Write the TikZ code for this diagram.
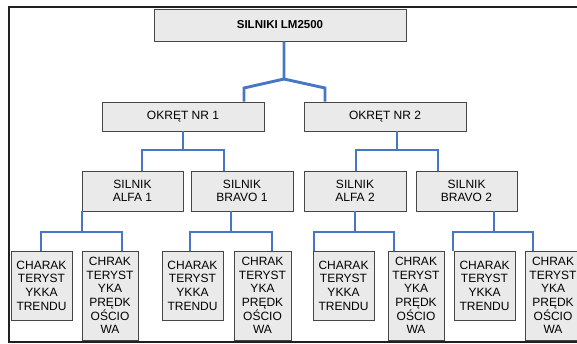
\documentclass[tikz,border=0pt]{standalone}
\usepackage{fontspec}
\setmainfont{Liberation Sans}
\definecolor{boxfill}{RGB}{234,234,234}
\definecolor{boxline}{RGB}{70,70,70}
\definecolor{connblue}{RGB}{70,118,196}
\definecolor{frame}{RGB}{35,31,32}
\tikzset{
  box/.style={draw=boxline, fill=boxfill, line width=0.9pt, inner sep=0pt, align=center,
    font=\fontsize{12}{13.6}\selectfont},
  conn/.style={draw=connblue, line width=2.9pt, line join=miter},
}
\begin{document}
\begin{tikzpicture}[x=1pt,y=-1pt]
\useasboundingbox (0,0) rectangle (577,343);
\draw[frame, line width=2.4pt] (585,7) -- (9,7) -- (9,342) -- (585,342);

% nodes
\node[box, minimum width=252pt, minimum height=32pt, font=\fontsize{11.5}{13}\selectfont\bfseries] (top) at (280,25) {SILNIKI LM2500};
\node[box, minimum width=162pt, minimum height=29pt] (ok1) at (183,116.5) {OKRĘT NR 1};
\node[box, minimum width=162pt, minimum height=29pt] (ok2) at (385,116.5) {OKRĘT NR 2};
\node[box, minimum width=101pt, minimum height=40pt] (a1) at (132.5,191) {SILNIK\\ALFA 1};
\node[box, minimum width=102pt, minimum height=40pt] (b1) at (242,191) {SILNIK\\BRAVO 1};
\node[box, minimum width=102pt, minimum height=40pt] (a2) at (355,191) {SILNIK\\ALFA 2};
\node[box, minimum width=101pt, minimum height=40pt] (b2) at (466.5,191) {SILNIK\\BRAVO 2};

\node[box, minimum width=61pt, minimum height=69pt] (c1) at (41.5,285.5) {CHARAK\\TERYST\\YKKA\\TRENDU};
\node[box, minimum width=56pt, minimum height=89pt] (d1) at (110,295.5) {CHRAK\\TERYST\\YKA\\PRĘDK\\OŚCIO\\WA};
\node[box, minimum width=61pt, minimum height=69pt] (c2) at (192.5,285.5) {CHARAK\\TERYST\\YKKA\\TRENDU};
\node[box, minimum width=57pt, minimum height=89pt] (d2) at (262.5,295.5) {CHRAK\\TERYST\\YKA\\PRĘDK\\OŚCIO\\WA};
\node[box, minimum width=61pt, minimum height=69pt] (c3) at (343.5,285.5) {CHARAK\\TERYST\\YKKA\\TRENDU};
\node[box, minimum width=56pt, minimum height=89pt] (d3) at (416,295.5) {CHRAK\\TERYST\\YKA\\PRĘDK\\OŚCIO\\WA};
\node[box, minimum width=61pt, minimum height=69pt] (c4) at (484.5,285.5) {CHARAK\\TERYST\\YKKA\\TRENDU};
\node[box, minimum width=56pt, minimum height=89pt] (d4) at (553,295.5) {CHRAK\\TERYST\\YKA\\PRĘDK\\OŚCIO\\WA};

% top level connector
\coordinate (j0) at (284,79);
\coordinate (t1) at (244,88);
\coordinate (t2) at (325,88);
\draw[conn] (top.south -| j0) -- (j0) -- (t1) -- (ok1.north -| t1);
\draw[conn] (j0) -- (t2) -- (ok2.north -| t2);

% level 2 -> 3
\coordinate (k1) at (183,150);
\coordinate (k1l) at (142,150);
\coordinate (k1r) at (224,150);
\draw[conn] (ok1.south -| k1) -- (k1);
\draw[conn] (a1.north -| k1l) -- (k1l) -- (k1r) -- (b1.north -| k1r);
\coordinate (k2) at (397,150);
\coordinate (k2l) at (356,150);
\coordinate (k2r) at (438,150);
\draw[conn] (ok2.south -| k2) -- (k2);
\draw[conn] (a2.north -| k2l) -- (k2l) -- (k2r) -- (b2.north -| k2r);

% level 3 -> 4
\coordinate (m1) at (82,232);
\coordinate (m1l) at (41,232);
\coordinate (m1r) at (122,232);
\draw[conn] (a1.south -| m1) -- (m1);
\draw[conn] (c1.north -| m1l) -- (m1l) -- (m1r) -- (d1.north -| m1r);
\coordinate (m2) at (231,232);
\coordinate (m2l) at (190,232);
\coordinate (m2r) at (272,232);
\draw[conn] (b1.south -| m2) -- (m2);
\draw[conn] (c2.north -| m2l) -- (m2l) -- (m2r) -- (d2.north -| m2r);
\coordinate (m3) at (355,232);
\coordinate (m3l) at (314,232);
\coordinate (m3r) at (394,232);
\draw[conn] (a2.south -| m3) -- (m3);
\draw[conn] (c3.north -| m3l) -- (m3l) -- (m3r) -- (d3.north -| m3r);
\coordinate (m4) at (494,232);
\coordinate (m4l) at (453,232);
\coordinate (m4r) at (533,232);
\draw[conn] (b2.south -| m4) -- (m4);
\draw[conn] (c4.north -| m4l) -- (m4l) -- (m4r) -- (d4.north -| m4r);
\end{tikzpicture}
\end{document}
